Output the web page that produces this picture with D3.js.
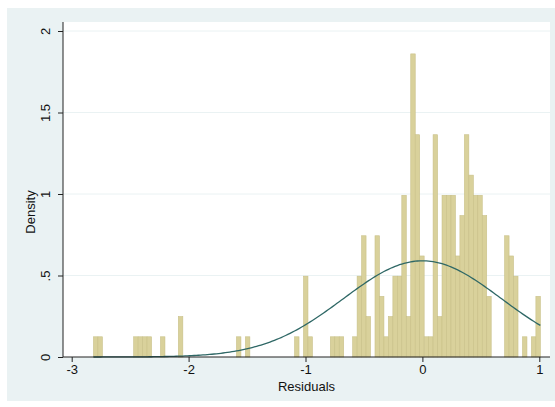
<!DOCTYPE html>
<html>
<head>
<meta charset="utf-8">
<script src="https://cdn.jsdelivr.net/npm/d3@7"></script>
<style>
  body { margin: 0; background: #ffffff; }
  text { font-family: "Liberation Sans", Arial, sans-serif; fill: #111; }
</style>
</head>
<body>
<div id="chart"></div>
<script>
// 100 bins of residuals, counts per bin
const binStart = -2.814;
const binWidth = 0.03823;
const counts = [
  1, 1, 0, 0, 0, 0, 0, 0, 0, 1,
  1, 1, 1, 0, 0, 1, 0, 0, 0, 2,
  0, 0, 0, 0, 0, 0, 0, 0, 0, 0,
  0, 0, 1, 0, 1, 0, 0, 0, 0, 0,
  0, 0, 0, 0, 0, 1, 0, 4, 1, 0,
  0, 0, 0, 1, 1, 1, 0, 0, 1, 4,
  6, 2, 0, 6, 3, 1, 2, 4, 4, 8,
  2, 15, 11, 5, 1, 1, 11, 2, 8, 8,
  8, 5, 7, 11, 9, 8, 8, 7, 3, 0,
  0, 0, 6, 5, 4, 0, 1, 0, 1, 3
];
// normal density overlay
const normMean = 0.0;
const normSd = 0.676;

const xTicks = [-3, -2, -1, 0, 1];
const xTickLabels = ["-3", "-2", "-1", "0", "1"];
const yTicks = [0, 0.5, 1, 1.5, 2];
const yTickLabels = ["0", ".5", "1", "1.5", "2"];

const W = 555, H = 407;
const plot = { left: 63, right: 550, top: 22, bottom: 357 };

const svg = d3.select("#chart")
    .append("svg")
    .attr("width", W)
    .attr("height", H);

// graph region
svg.append("rect")
    .attr("x", 7).attr("y", 8)
    .attr("width", W - 7).attr("height", H - 8 - 6)
    .attr("fill", "#eaf2f3");

// plot region
svg.append("rect")
    .attr("x", plot.left).attr("y", plot.top)
    .attr("width", plot.right - plot.left).attr("height", plot.bottom - plot.top)
    .attr("fill", "#ffffff");

const x = d3.scaleLinear()
    .domain([-3, 1])
    .range([71.7, 539.3]);

const y = d3.scaleLinear()
    .domain([0, 2])
    .range([plot.bottom, 31]);

const total = d3.sum(counts);
const bins = counts.map((c, i) => ({
    x0: binStart + i * binWidth,
    x1: binStart + (i + 1) * binWidth,
    density: c / (total * binWidth)
}));

// gridlines
svg.append("g")
    .selectAll("line")
    .data(yTicks.slice(1))
    .enter()
    .append("line")
    .attr("x1", plot.left).attr("x2", plot.right)
    .attr("y1", d => y(d)).attr("y2", d => y(d))
    .attr("stroke", "#eaf2f3")
    .attr("stroke-width", 1);

// bars
svg.append("g")
    .selectAll("rect")
    .data(bins.filter(d => d.density > 0))
    .enter()
    .append("rect")
    .attr("x", d => x(d.x0))
    .attr("y", d => y(d.density))
    .attr("width", d => x(d.x1) - x(d.x0))
    .attr("height", d => y(0) - y(d.density))
    .attr("fill", "#d9d19b")
    .attr("stroke", "#c9c088")
    .attr("stroke-width", 0.6);

// normal curve
const lo = binStart, hi = binStart + counts.length * binWidth;
const curve = d3.range(0, 201).map(i => {
    const v = lo + (hi - lo) * i / 200;
    const z = (v - normMean) / normSd;
    return [v, Math.exp(-0.5 * z * z) / (normSd * Math.sqrt(2 * Math.PI))];
});

svg.append("path")
    .datum(curve)
    .attr("fill", "none")
    .attr("stroke", "#2f6866")
    .attr("stroke-width", 1.3)
    .attr("d", d3.line().x(d => x(d[0])).y(d => y(d[1])));

// axes
const xAxis = svg.append("g")
    .attr("transform", `translate(0,${plot.bottom})`)
    .call(d3.axisBottom(x).tickValues(xTicks).tickSize(5).tickPadding(3)
        .tickFormat((d, i) => xTickLabels[i]));
xAxis.select(".domain").attr("d", `M${plot.left},0H${plot.right}`).attr("stroke", "#222");
xAxis.selectAll(".tick line").attr("stroke", "#222");
xAxis.selectAll("text").style("font-size", "13px").attr("fill", "#111");

const yAxis = svg.append("g")
    .attr("transform", `translate(${plot.left},0)`)
    .call(d3.axisLeft(y).tickValues(yTicks).tickSize(5).tickFormat((d, i) => yTickLabels[i]));
yAxis.select(".domain").attr("d", `M0,${plot.top}V${plot.bottom}`).attr("stroke", "#222");
yAxis.selectAll(".tick line").attr("stroke", "#222");
yAxis.selectAll("text")
    .style("font-size", "13px")
    .attr("fill", "#111")
    .attr("x", null).attr("dy", null)
    .attr("transform", "translate(-13,0) rotate(-90)")
    .attr("text-anchor", "middle");

// axis titles
svg.append("text")
    .attr("x", (plot.left + plot.right) / 2)
    .attr("y", 391)
    .attr("text-anchor", "middle")
    .style("font-size", "13px")
    .text("Residuals");

svg.append("text")
    .attr("transform", "translate(35,212) rotate(-90)")
    .attr("text-anchor", "middle")
    .style("font-size", "13px")
    .text("Density");
</script>
</body>
</html>
